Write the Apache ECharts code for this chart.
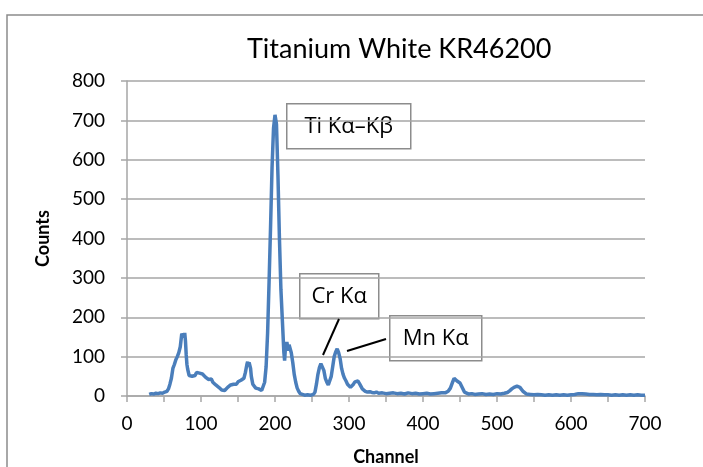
<!DOCTYPE html>
<html>
<head>
<meta charset="utf-8">
<script src="https://cdn.jsdelivr.net/npm/echarts@6/dist/echarts.min.js"></script>
<style>
  html, body { margin: 0; padding: 0; background: #fff; }
  #chart { width: 703px; height: 467px; }
</style>
</head>
<body>
<div id="chart"></div>
<script>
// spectrum
const channels = [
  30, 33, 36, 39, 42, 45, 48, 51, 54, 56, 58, 60, 62, 64, 66, 68, 70, 72, 74, 76, 77, 78, 79, 80, 81, 82, 84, 86, 88, 90,
  92, 94, 96, 98, 100, 102, 104, 106, 108, 110, 112, 114, 116, 118, 120, 122, 124, 126, 128, 130, 132, 134, 136, 138, 140,
  142, 144, 146, 148, 150, 152, 154, 156, 158, 160, 162, 163, 164, 165, 166, 167, 168, 170, 172, 174, 176, 178, 180, 182,
  184, 186, 188, 190, 192, 194, 196, 198, 200, 201, 202, 204, 206, 208, 210, 212, 213, 214, 216, 218, 219, 220, 222, 224,
  226, 228, 230, 232, 234, 236, 240, 244, 248, 252, 254, 256, 258, 260, 262, 264, 266, 268, 270, 272, 274, 276, 278, 280,
  282, 284, 286, 288, 290, 292, 294, 296, 298, 300, 302, 304, 306, 308, 310, 312, 314, 316, 318, 320, 322, 325, 328, 331,
  334, 337, 340, 345, 350, 355, 360, 365, 370, 375, 380, 385, 390, 395, 400, 405, 410, 415, 420, 425, 430, 434, 437, 440,
  442, 443, 444, 446, 448, 450, 452, 454, 456, 458, 462, 466, 470, 475, 480, 485, 490, 495, 500, 505, 510, 514, 517, 520,
  523, 525, 527, 529, 531, 533, 535, 537, 540, 545, 550, 555, 560, 565, 570, 575, 580, 585, 590, 595, 600, 605, 610, 612,
  615, 620, 625, 630, 635, 640, 645, 650, 655, 660, 665, 670, 675, 680, 685, 690, 695, 700
];
const counts = [
  4, 6, 5, 7, 6, 8, 7, 10, 12, 18, 30, 45, 70, 80, 92, 100, 110, 125, 158, 162, 150, 160, 140, 105, 80, 68, 52, 48, 50, 55,
  52, 60, 65, 58, 62, 56, 55, 48, 50, 42, 40, 43, 35, 33, 28, 30, 22, 18, 15, 20, 14, 18, 22, 20, 28,
  25, 30, 33, 30, 36, 34, 40, 38, 45, 60, 80, 87, 75, 85, 88, 70, 50, 30, 25, 20, 22, 18, 16, 14,
  18, 35, 75, 160, 290, 430, 580, 680, 714, 712, 690, 560, 400, 270, 190, 110, 90, 120, 137, 115, 130, 125, 110, 85,
  55, 35, 20, 12, 6, 3, 2, 3, 2, 4, 10, 30, 55, 72, 82, 78, 65, 45, 35, 28, 32, 50, 75, 100,
  112, 120, 110, 95, 70, 55, 45, 38, 30, 25, 22, 25, 30, 36, 40, 38, 32, 25, 18, 15, 12, 10, 11, 9,
  8, 10, 7, 8, 6, 7, 8, 6, 7, 5, 8, 6, 7, 5, 6, 7, 5, 6, 7, 8, 8, 12, 20, 35,
  45, 49, 42, 38, 35, 33, 28, 18, 10, 6, 5, 6, 4, 5, 6, 4, 5, 4, 6, 5, 7, 9, 13, 18,
  22, 25, 25, 23, 22, 18, 12, 8, 5, 4, 3, 4, 3, 2, 3, 2, 3, 2, 3, 2, 3, 4, 6, 8,
  6, 5, 4, 4, 3, 4, 3, 3, 2, 3, 2, 3, 2, 3, 2, 3, 2, 2
];

const chart = echarts.init(document.getElementById('chart'));
const font = 'Lato, "Open Sans", sans-serif';
const gray = '#a6a6a6';

function box(x, y, w, h, label) {
  return {
    type: 'group', left: x, top: y, z: 10,
    children: [
      { type: 'rect', shape: { x: 0, y: 0, width: w, height: h },
        style: { fill: '#fff', stroke: '#8c8c8c', lineWidth: 1.5 } },
      { type: 'text', x: w / 2, y: h / 2,
        style: { text: label, fill: '#000', font: '22px "Open Sans", sans-serif', align: 'center', verticalAlign: 'middle' } }
    ]
  };
}

chart.setOption({
  animation: false,
  title: {
    text: 'Titanium White KR46200',
    left: 242, top: 31,
    textStyle: { fontFamily: font, fontSize: 27, fontWeight: 'normal', color: '#000' }
  },
  grid: { left: 127, right: 58, top: 81, bottom: 71, containLabel: false, outerBoundsMode: 'none' },
  xAxis: {
    type: 'value', min: 0, max: 700, interval: 100,
    name: 'Channel', nameLocation: 'middle', nameGap: 52,
    nameTextStyle: { fontFamily: font, fontSize: 18, fontWeight: 'bold', color: '#000' },
    axisLine: { lineStyle: { color: gray, width: 1.5 } },
    axisTick: { show: true, length: 6, lineStyle: { color: gray, width: 1.5 } },
    minorTick: { show: true, splitNumber: 2, length: 6, lineStyle: { color: gray, width: 1.5 } },
    axisLabel: { margin: 18, fontFamily: font, fontSize: 19, color: '#000' },
    splitLine: { show: false }
  },
  yAxis: {
    type: 'value', min: 0, max: 800, interval: 100,
    name: 'Counts', nameLocation: 'middle', nameGap: 75, nameRotate: 90,
    nameTextStyle: { fontFamily: font, fontSize: 18, fontWeight: 'bold', color: '#000' },
    axisLine: { show: true, lineStyle: { color: gray, width: 1.5 } },
    axisTick: { show: true, length: 6, lineStyle: { color: gray, width: 1.5 } },
    axisLabel: { margin: 22, fontFamily: font, fontSize: 19, color: '#000' },
    splitLine: { lineStyle: { color: gray, width: 1.5 } }
  },
  series: [{
    type: 'line',
    data: channels.map((c, i) => [c, counts[i]]),
    symbol: 'none',
    lineStyle: { color: '#4a7ebb', width: 3.5 },
    z: 3
  }],
  graphic: [
    { type: 'polyline', shape: { points: [[7, 467], [7, 15], [703, 15]] },
      style: { stroke: '#8c8c8c', lineWidth: 1.5, fill: null } },
    { type: 'line', shape: { x1: 339, y1: 319, x2: 323, y2: 355 }, style: { stroke: '#000', lineWidth: 2 }, z: 10 },
    { type: 'line', shape: { x1: 386, y1: 339, x2: 347, y2: 351 }, style: { stroke: '#000', lineWidth: 2 }, z: 10 },
    box(286, 103, 124, 45, 'Ti K\u03b1\u2013K\u03b2'),
    box(299, 273, 79, 45, 'Cr K\u03b1'),
    box(389, 315, 92, 45, 'Mn K\u03b1')
  ]
});
</script>
</body>
</html>
